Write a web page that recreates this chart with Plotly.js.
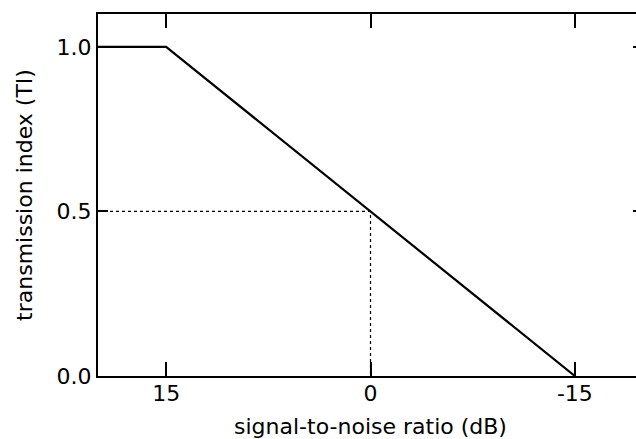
<!DOCTYPE html>
<html>
<head>
<meta charset="utf-8">
<script src="https://cdn.plot.ly/plotly-3.0.1.min.js"></script>
<style>
html,body{margin:0;padding:0;overflow:hidden;background:#fff;width:636px;height:439px;}
#chart{width:660px;height:439px;}
</style>
</head>
<body>
<div id="chart"></div>
<script>
// Data
const snrDB = [20, 15, -15];
const transmissionIndex = [1.0, 1.0, 0.0];
const guideX = [20, 0, 0];
const guideY = [0.5, 0.5, 0.0];
const xTickVals = [15, 0, -15];
const xTickText = ['15', '0', '-15'];
const yTickVals = [0.0, 0.5, 1.0];
const yTickText = ['0.0', '0.5', '1.0'];

const traces = [
  {x: guideX, y: guideY, mode: 'lines', line: {color: '#000', width: 1.2, dash: 'dot'}, hoverinfo: 'skip'},
  {x: snrDB, y: transmissionIndex, mode: 'lines', line: {color: '#000', width: 2.2}}
];

const layout = {
  width: 660, height: 439,
  margin: {l: 98, r: 17, t: 14, b: 63},
  showlegend: false,
  paper_bgcolor: '#fff', plot_bgcolor: '#fff',
  font: {family: 'DejaVu Sans, Verdana, sans-serif', color: '#000'},
  xaxis: {
    range: [20, -20], tickvals: xTickVals, ticktext: xTickText,
    ticks: 'inside', ticklen: 14, tickwidth: 2, tickcolor: '#000',
    showline: true, linecolor: '#000', linewidth: 2, mirror: 'ticks',
    showgrid: false, zeroline: false,
    ticklabelstandoff: -3,
    tickfont: {size: 22},
    title: {text: 'signal-to-noise ratio (dB)', font: {size: 22}, standoff: 13}
  },
  yaxis: {
    range: [0, 1.1], tickvals: yTickVals, ticktext: yTickText,
    ticks: 'inside', ticklen: 10, tickwidth: 2, tickcolor: '#000',
    showline: true, linecolor: '#000', linewidth: 2, mirror: 'ticks',
    showgrid: false, zeroline: false,
    tickfont: {size: 22},
    title: {text: 'transmission index (TI)', font: {size: 22}, standoff: 18}
  }
};

Plotly.newPlot('chart', traces, layout, {displayModeBar: false, staticPlot: true});
</script>
</body>
</html>
